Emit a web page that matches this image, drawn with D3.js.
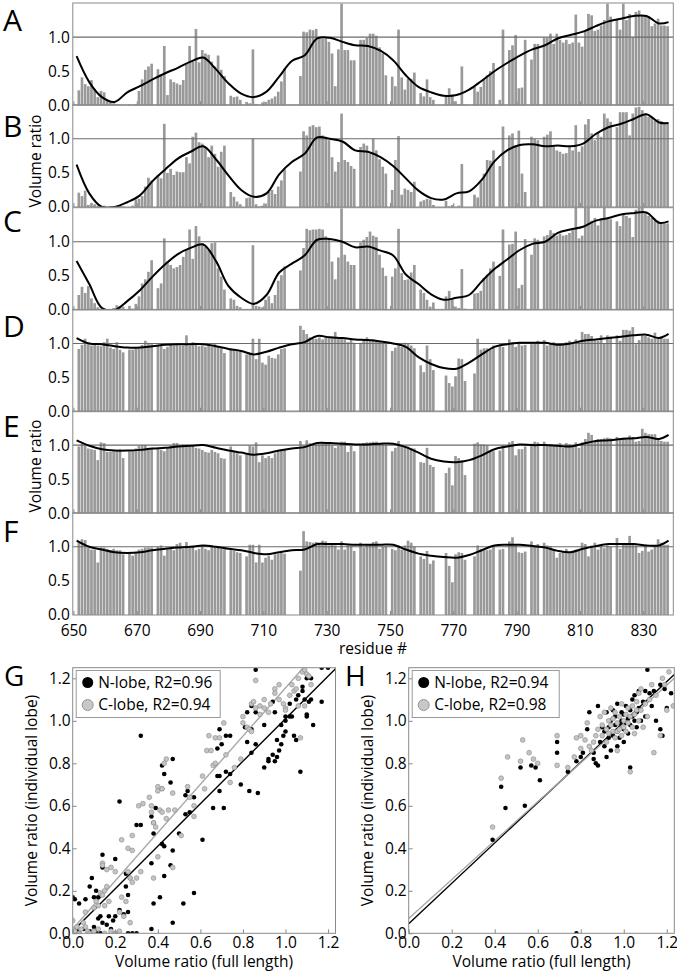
<!DOCTYPE html>
<html><head><meta charset="utf-8">
<script src="https://cdn.jsdelivr.net/npm/d3@7"></script>
<style>body{margin:0;background:#fff;} svg{display:block;font-family:"Open Sans",sans-serif;}</style>
</head><body><svg id="c" width="677" height="977"></svg>
<script>
// ---------- DATA ----------
const residues = [
652,653,654,655,656,657,658,659,660,661,662,663,664,665,666,
668,669,670,671,672,673,674,675,
677,678,679,680,681,682,683,684,685,686,687,688,689,690,691,692,693,694,695,696,697,698,
700,701,702,703,
705,706,707,708,709,710,711,712,713,714,715,716,717,
722,723,724,725,726,727,728,729,730,731,
732,733,734,735,736,737,738,739,
741,742,743,744,745,746,747,748,749,
751,752,753,754,755,756,757,758,
760,761,762,763,764,
768,769,770,771,772,773,774,
777,778,779,780,781,782,783,
785,786,
788,789,790,791,792,793,
795,796,797,
799,800,801,802,803,804,805,806,807,808,809,810,811,812,813,814,815,816,817,818,819,820,
822,823,824,825,826,827,828,829,830,831,832,833,834,835,836,837,838];

const barA = [
0.22,0.41,0.31,0.28,0.37,0.24,0.12,0.21,0.19,0.08,0.05,0.03,0.02,0.01,0.00,
0.01,0.00,0.02,0.21,0.38,0.52,0.57,0.61,
0.53,0.44,0.87,0.15,0.38,0.34,0.32,0.30,0.37,0.61,0.87,0.64,1.12,0.63,0.81,0.76,0.74,0.64,0.57,0.73,0.52,0.43,
0.14,0.12,0.13,0.08,
0.05,0.03,0.82,0.02,0.00,0.04,0.05,0.08,0.10,0.13,0.20,0.35,0.54,
0.43,1.08,1.07,1.11,1.10,1.12,1.00,0.98,0.98,0.93,
0.76,0.28,0.82,1.49,0.81,0.81,0.66,0.66,
0.96,0.96,0.99,1.05,1.05,1.02,0.85,0.76,0.44,
0.42,0.28,1.11,0.41,0.23,0.39,0.39,0.48,
0.18,0.13,0.38,0.12,0.08,
0.13,0.25,0.16,0.06,0.02,0.57,0.01,
0.27,0.20,0.27,0.38,0.44,0.50,0.62,
0.08,1.11,
0.81,0.88,1.03,0.25,0.26,0.96,
0.67,0.90,0.90,
0.99,0.99,1.05,0.90,1.05,0.96,0.92,0.96,0.90,0.92,1.33,0.92,0.86,1.08,1.34,1.32,1.09,1.11,1.17,1.25,1.49,1.30,
1.25,1.11,1.49,1.25,1.34,1.00,1.37,1.39,1.32,1.32,1.29,1.16,1.20,1.27,1.17,1.17,1.16];

const barB = [
0.21,0.16,0.24,0.03,0.06,0.04,0.02,0.01,0.02,0.00,0.01,0.00,0.00,0.02,0.01,
0.00,0.02,0.11,0.12,0.16,0.30,0.43,0.39,
0.47,0.42,1.22,0.50,0.56,0.47,0.52,0.51,0.51,0.73,0.64,1.03,1.09,0.95,0.93,0.88,0.73,0.90,0.78,0.59,0.81,0.90,
0.22,0.15,0.08,0.04,
0.13,0.14,1.00,0.04,0.01,0.02,0.05,0.22,0.25,0.19,0.30,0.39,0.56,
0.52,1.11,1.05,1.18,1.20,1.17,1.18,1.05,1.03,0.98,
0.73,0.52,0.66,1.37,0.69,0.66,0.60,0.56,
0.88,0.93,0.90,0.78,1.00,0.83,0.70,0.59,0.49,
0.25,0.69,1.04,0.18,0.27,0.25,0.22,0.37,
0.08,0.10,0.12,0.11,0.03,
0.09,0.01,0.03,0.00,0.02,0.63,0.00,
0.18,0.14,0.37,0.49,0.69,0.68,0.83,
0.60,1.18,
1.05,1.08,0.88,1.12,0.49,0.22,
1.03,1.00,0.98,
1.03,1.06,1.11,0.88,0.83,0.81,0.78,0.79,0.88,0.83,1.20,0.81,0.89,1.21,1.29,1.08,0.98,1.09,1.03,1.37,1.30,1.25,
1.17,1.39,1.39,1.39,1.05,1.37,1.46,1.47,1.42,1.37,1.32,1.33,1.27,1.29,1.26,1.22,1.22];

const barC = [
0.22,0.34,0.25,0.35,0.17,0.10,0.04,0.02,0.02,0.01,0.00,0.03,0.07,0.06,0.05,
0.06,0.02,0.09,0.20,0.39,0.45,0.56,0.73,
0.32,0.39,1.05,0.71,0.66,0.61,0.63,0.66,0.78,0.88,1.18,0.75,1.23,1.08,0.98,0.93,0.88,0.98,0.99,0.61,0.49,0.30,
0.17,0.15,0.06,0.04,
0.01,0.01,0.95,0.06,0.05,0.04,0.15,0.20,0.10,0.22,0.43,0.51,0.64,
0.58,0.91,1.19,1.17,1.18,1.18,1.19,1.18,1.08,1.05,
0.71,0.45,0.77,1.49,0.81,0.71,0.66,0.66,
0.99,1.03,1.07,1.15,1.09,1.07,0.81,0.62,0.50,
0.49,0.61,1.19,0.54,0.44,0.45,0.55,0.66,
0.30,0.25,0.15,0.05,0.11,
0.20,0.28,0.16,0.05,0.03,0.60,0.02,
0.24,0.25,0.28,0.47,0.52,0.61,0.71,
0.50,1.18,
0.96,0.97,1.15,0.32,0.37,1.04,
0.81,1.05,1.03,
1.08,1.10,1.17,1.13,1.09,1.12,1.09,1.10,1.13,1.17,1.50,1.05,1.09,1.50,1.50,1.31,1.35,1.24,1.35,1.50,1.35,1.33,
1.30,1.23,1.42,1.38,1.35,1.07,1.47,1.50,1.50,1.42,1.38,1.35,1.31,1.31,1.27,1.27,1.27];

const barD = [
0.92,0.98,1.07,1.01,0.97,1.00,0.97,0.96,1.02,1.07,0.94,0.92,1.02,0.91,0.87,
0.91,0.91,0.93,0.95,0.98,1.04,1.01,0.99,
0.98,0.97,0.92,0.95,0.99,0.97,0.99,0.97,0.97,1.12,0.97,1.02,1.01,0.96,0.97,0.95,0.97,0.95,0.99,0.95,0.93,0.86,
0.93,0.92,0.91,0.89,
0.84,0.85,1.07,0.77,1.07,0.72,0.69,0.82,0.79,0.78,0.84,0.92,0.93,
1.26,1.20,1.14,1.09,1.07,1.07,1.09,1.06,1.11,1.10,
1.10,1.17,1.07,1.07,1.06,1.02,1.06,1.01,
1.01,1.06,1.09,1.05,1.06,1.05,1.02,1.01,1.00,
0.89,0.94,0.97,0.95,1.01,1.00,0.97,0.93,
0.68,0.58,0.97,0.77,0.61,
0.53,0.42,0.37,0.52,0.78,0.77,0.45,
0.56,1.07,0.91,0.93,0.93,0.91,0.97,
0.99,0.95,
1.06,1.02,0.95,1.00,0.97,0.98,
0.99,1.00,1.04,
1.05,0.97,1.00,1.02,0.99,1.00,1.00,1.02,1.04,1.00,1.06,1.04,1.17,1.14,1.14,1.11,1.04,1.04,1.12,1.00,1.12,1.10,
1.12,1.04,1.20,1.20,1.19,1.24,0.99,1.05,1.12,1.11,1.09,1.07,1.16,1.07,1.09,1.07,1.07];

const barE = [
0.98,1.02,0.99,0.95,0.94,0.93,0.78,1.04,1.03,0.90,0.90,0.91,0.91,0.94,0.81,
0.91,0.93,0.95,0.99,1.00,1.00,0.96,0.96,
0.94,0.93,0.91,0.95,0.99,1.03,1.03,0.99,1.01,1.01,1.00,0.99,0.96,0.95,0.93,0.90,0.89,0.93,0.90,0.88,0.81,0.80,
0.98,0.90,0.88,0.85,
0.86,0.99,0.98,1.04,0.75,0.85,0.81,0.84,0.81,0.88,0.91,0.93,0.93,
1.06,0.99,1.07,1.03,1.01,1.01,1.01,1.04,1.04,1.03,
0.99,0.96,0.99,1.05,1.05,0.90,0.99,0.91,
1.01,1.03,1.04,1.04,1.05,1.05,1.01,1.01,1.00,
0.91,0.96,1.06,0.99,0.99,0.98,0.96,0.95,
0.75,0.74,0.96,0.71,0.68,
0.59,0.67,0.41,0.84,0.81,0.78,0.56,
1.02,1.04,1.01,1.01,1.00,0.91,0.91,
0.92,1.00,
1.04,1.06,0.85,0.94,0.94,0.98,
1.02,1.05,1.04,
1.05,0.99,1.01,0.99,1.01,1.03,0.96,1.03,1.01,0.99,1.04,0.96,1.04,1.09,1.18,1.15,1.06,1.09,1.09,1.10,1.11,1.10,
1.12,1.09,1.11,1.09,1.14,1.12,1.05,1.06,1.24,1.18,1.16,1.16,1.16,1.10,1.06,1.05,1.05];

const barF = [
1.08,1.11,1.10,0.99,0.96,0.96,0.77,0.99,0.99,0.97,0.95,0.97,0.95,0.95,0.89,
0.90,0.87,0.92,0.96,0.97,0.99,0.99,0.99,
1.00,1.02,0.87,0.97,0.97,0.95,1.04,1.06,0.97,1.07,0.99,1.02,0.95,0.97,1.02,0.97,0.95,1.02,0.99,1.00,0.97,0.96,
0.95,0.94,0.92,0.91,
0.86,1.03,1.03,0.77,1.03,0.77,0.84,0.87,0.81,0.89,0.90,0.91,0.90,
0.65,1.23,1.08,1.07,1.06,1.07,1.06,1.09,1.08,1.02,
1.04,1.02,0.96,1.08,0.96,1.02,1.01,0.94,
1.06,0.99,1.02,1.04,1.07,1.08,0.97,1.00,1.01,
0.97,0.95,1.02,0.96,1.02,1.09,1.06,1.00,
0.86,0.82,0.94,0.75,0.80,
0.91,0.72,0.48,0.89,0.92,0.91,0.81,
0.86,1.02,0.97,0.95,0.95,0.96,1.00,
0.96,0.97,
1.08,1.14,1.04,0.92,0.91,0.93,
1.08,1.02,1.04,
1.06,1.02,1.01,0.96,0.84,0.91,0.92,0.97,0.92,0.94,0.96,0.97,1.06,1.04,0.86,1.02,1.06,0.96,1.02,0.98,1.02,1.00,
1.13,0.97,1.04,1.03,1.16,1.04,1.02,0.91,0.94,1.02,0.93,0.96,1.02,1.11,1.06,1.03,1.03];

// smoothed profile read at these residues
const knots = [651,655,659,663,667,671,675,679,683,687,691,695,699,703,707,711,715,719,723,727,731,735,739,743,747,751,755,759,763,767,771,775,779,783,787,791,795,799,803,807,811,815,819,823,827,831,835,838];
const lineA = [0.72,0.34,0.12,0.05,0.19,0.28,0.38,0.47,0.55,0.64,0.70,0.53,0.32,0.17,0.12,0.20,0.42,0.65,0.73,0.98,0.99,0.93,0.88,0.87,0.80,0.66,0.44,0.27,0.19,0.14,0.15,0.23,0.36,0.50,0.62,0.73,0.82,0.88,0.98,1.03,1.08,1.16,1.23,1.27,1.31,1.31,1.20,1.22];
const lineB = [0.62,0.20,0.00,0.00,0.07,0.17,0.38,0.55,0.71,0.81,0.89,0.70,0.46,0.25,0.15,0.20,0.48,0.66,0.78,1.02,1.00,0.96,0.83,0.81,0.73,0.60,0.42,0.24,0.13,0.11,0.20,0.23,0.40,0.67,0.83,0.91,0.92,0.89,0.90,0.89,0.93,1.07,1.17,1.22,1.29,1.36,1.24,1.23];
const lineC = [0.72,0.38,0.03,0.00,0.13,0.29,0.49,0.67,0.82,0.91,0.96,0.72,0.35,0.18,0.09,0.22,0.55,0.68,0.80,1.03,1.04,1.00,0.92,0.93,0.87,0.80,0.52,0.38,0.23,0.15,0.18,0.22,0.42,0.60,0.74,0.88,0.97,1.00,1.13,1.18,1.22,1.31,1.35,1.40,1.42,1.43,1.28,1.30];
const lineD = [1.08,1.00,0.99,0.96,0.94,0.94,0.96,0.98,0.99,0.99,0.99,0.96,0.92,0.89,0.84,0.88,0.94,0.99,1.02,1.11,1.09,1.08,1.06,1.05,1.03,1.00,0.95,0.80,0.70,0.64,0.63,0.72,0.84,0.95,0.99,1.01,1.01,1.01,0.98,1.00,1.04,1.06,1.08,1.10,1.12,1.13,1.08,1.14];
const lineE = [1.07,0.99,0.94,0.92,0.92,0.93,0.95,0.96,0.98,0.99,1.00,0.96,0.92,0.89,0.86,0.88,0.92,0.95,0.97,1.03,1.03,1.02,1.01,1.01,1.02,1.02,0.97,0.89,0.80,0.76,0.75,0.78,0.85,0.94,0.98,1.01,1.00,1.00,0.99,0.98,1.02,1.06,1.07,1.09,1.10,1.12,1.09,1.15];
const lineF = [1.09,1.00,0.96,0.92,0.91,0.92,0.95,0.97,0.99,1.00,1.02,1.00,0.97,0.95,0.91,0.89,0.92,0.95,0.96,1.04,1.04,1.04,1.03,1.03,1.03,1.03,0.96,0.90,0.87,0.85,0.84,0.88,0.95,1.02,1.03,1.03,1.01,0.99,0.94,0.92,0.97,1.01,1.04,1.04,1.04,1.02,1.02,1.09];

const panelLetters = ["A","B","C","D","E","F"];
const barTicksY = [0.0, 0.5, 1.0];
const residueTicks = [650,670,690,710,730,750,770,790,810,830];
const scatterTicks = [0.0,0.2,0.4,0.6,0.8,1.0,1.2];

// G: full length vs individual lobe
const gNlobe = [[0.0,0.17],[0.01,0.16],[0.03,0.14],[0.06,0.16],[0.05,0.02],[0.02,0.01],[0.0,0.0],[0.03,0.0],[0.08,0.01],[0.11,0.01],[0.13,0.0],[0.1,0.03],[0.14,0.05],[0.16,0.04],[0.18,0.02],[0.2,0.0],[0.26,0.0],[0.28,0.0],[0.3,0.0],[0.37,0.02],[0.12,0.07],[0.13,0.08],[0.17,0.08],[0.19,0.06],[0.2,0.08],[0.24,0.09],[0.26,0.1],[0.22,0.11],[0.1,0.17],[0.12,0.17],[0.11,0.2],[0.08,0.22],[0.09,0.26],[0.14,0.31],[0.14,0.37],[0.2,0.35],[0.26,0.18],[0.25,0.22],[0.25,0.28],[0.27,0.26],[0.22,0.62],[0.32,0.93],[0.3,0.51],[0.32,0.51],[0.37,0.55],[0.39,0.59],[0.38,0.52],[0.37,0.33],[0.38,0.14],[0.41,0.17],[0.43,0.27],[0.46,0.32],[0.47,0.05],[0.42,0.42],[0.43,0.41],[0.47,0.39],[0.38,0.47],[0.42,0.68],[0.46,0.71],[0.43,0.75],[0.42,0.79],[0.47,0.82],[0.5,0.47],[0.53,0.56],[0.54,0.67],[0.53,0.65],[0.57,0.64],[0.55,0.57],[0.57,0.19],[0.52,0.14],[0.61,0.44],[0.66,0.59],[0.71,0.59],[0.69,0.74],[0.68,0.74],[0.69,0.67],[0.72,0.76],[0.74,0.75],[0.7,0.89],[0.68,0.87],[0.72,0.93],[0.74,0.93],[0.69,0.96],[0.79,0.7],[0.83,0.67],[0.87,0.66],[0.84,0.85],[0.86,0.89],[0.82,0.9],[0.81,0.97],[0.84,0.96],[0.82,1.04],[0.84,1.07],[0.86,1.04],[0.86,1.24],[0.9,0.78],[0.92,0.81],[0.92,0.82],[0.95,0.81],[0.94,0.84],[0.96,0.83],[0.97,0.86],[0.96,0.91],[0.98,0.89],[0.99,0.93],[1.0,0.95],[0.98,0.98],[1.0,1.0],[1.0,1.02],[1.02,1.02],[1.03,1.02],[0.95,1.04],[0.94,1.09],[0.9,0.98],[1.02,1.08],[1.05,1.1],[1.04,0.93],[1.05,0.91],[1.07,0.76],[1.06,1.12],[1.08,1.14],[1.09,1.1],[1.1,1.02],[1.1,1.03],[1.11,1.09],[1.08,1.16],[1.1,1.2],[1.12,1.2],[1.12,1.1],[1.13,0.98],[1.17,1.09],[1.17,1.25],[1.2,1.25]];
const gClobe = [[0.0,0.06],[0.0,0.02],[0.01,0.01],[0.02,0.03],[0.03,0.0],[0.04,0.02],[0.05,0.05],[0.06,0.03],[0.07,0.01],[0.08,0.0],[0.1,0.01],[0.12,0.02],[0.15,0.0],[0.18,0.01],[0.2,0.0],[0.22,0.01],[0.06,0.1],[0.1,0.12],[0.11,0.15],[0.13,0.19],[0.12,0.13],[0.14,0.18],[0.15,0.2],[0.16,0.22],[0.15,0.13],[0.17,0.15],[0.22,0.1],[0.24,0.08],[0.27,0.05],[0.23,0.17],[0.25,0.15],[0.26,0.29],[0.27,0.26],[0.28,0.24],[0.3,0.26],[0.32,0.29],[0.14,0.33],[0.14,0.32],[0.16,0.3],[0.18,0.31],[0.2,0.29],[0.23,0.44],[0.26,0.4],[0.28,0.39],[0.28,0.46],[0.31,0.6],[0.33,0.61],[0.36,0.64],[0.37,0.6],[0.37,0.57],[0.38,0.52],[0.39,0.5],[0.4,0.69],[0.4,0.67],[0.42,0.68],[0.44,0.82],[0.43,0.8],[0.41,0.58],[0.42,0.57],[0.44,0.54],[0.45,0.58],[0.47,0.66],[0.48,0.58],[0.38,0.26],[0.4,0.36],[0.47,0.31],[0.51,0.46],[0.54,0.69],[0.55,0.64],[0.57,0.55],[0.57,0.6],[0.61,0.74],[0.62,0.68],[0.63,0.86],[0.64,0.93],[0.65,0.86],[0.66,0.79],[0.67,0.8],[0.67,0.92],[0.69,0.92],[0.71,0.99],[0.72,0.84],[0.74,0.71],[0.76,0.78],[0.79,0.82],[0.8,0.99],[0.8,1.02],[0.82,0.97],[0.83,0.96],[0.84,0.95],[0.84,1.08],[0.85,1.09],[0.86,1.06],[0.86,1.19],[0.88,1.03],[0.88,1.07],[0.9,1.1],[0.9,1.06],[0.92,1.04],[0.93,1.08],[0.95,1.15],[0.95,1.13],[0.97,1.1],[0.97,1.17],[0.99,1.08],[1.0,1.06],[1.0,1.05],[1.02,1.12],[1.03,1.17],[1.04,1.14],[1.05,1.15],[1.06,1.07],[1.07,0.92],[1.06,1.2],[1.08,1.23],[1.09,1.24],[1.1,1.22],[1.11,1.21],[1.12,1.17],[1.09,1.07]];
// H
const hNlobe = [[0.39,0.44],[0.43,0.69],[0.45,0.59],[0.52,0.78],[0.54,0.6],[0.57,0.79],[0.59,0.78],[0.61,0.72],[0.69,0.85],[0.69,0.9],[0.74,0.76],[0.78,0.81],[0.8,0.83],[0.81,0.85],[0.83,0.96],[0.84,1.04],[0.86,0.85],[0.86,0.82],[0.87,0.8],[0.88,0.79],[0.88,1.07],[0.89,0.9],[0.9,0.97],[0.91,0.88],[0.91,0.95],[0.92,1.04],[0.93,0.92],[0.93,0.97],[0.94,0.86],[0.94,1.0],[0.95,1.05],[0.95,0.93],[0.96,0.98],[0.96,1.02],[0.97,0.95],[0.97,1.08],[0.98,0.99],[0.98,0.92],[0.99,1.0],[0.99,1.04],[1.0,0.96],[1.0,1.03],[1.01,0.99],[1.01,1.07],[1.02,1.01],[1.02,0.94],[1.03,1.05],[1.03,0.78],[1.03,0.98],[1.04,1.1],[1.04,1.02],[1.05,1.0],[1.05,1.12],[1.06,1.04],[1.06,0.97],[1.07,1.06],[1.07,1.14],[1.08,1.0],[1.09,1.09],[1.1,1.14],[1.1,1.02],[1.11,1.24],[1.12,1.13],[1.13,1.07],[1.14,1.14],[1.15,1.0],[1.17,0.96],[1.17,1.17],[1.18,0.93],[1.19,1.15],[1.2,1.06],[1.22,1.13],[0.78,0.0],[0.97,0.88],[0.92,0.83],[1.0,0.9]];
const hClobe = [[0.39,0.5],[0.43,0.73],[0.46,0.83],[0.52,0.81],[0.53,0.91],[0.56,0.85],[0.58,0.82],[0.6,0.8],[0.69,0.93],[0.69,0.79],[0.74,0.78],[0.77,0.83],[0.78,0.92],[0.8,0.93],[0.8,0.87],[0.82,0.91],[0.83,0.99],[0.84,0.88],[0.85,0.86],[0.86,0.9],[0.87,0.93],[0.88,0.96],[0.89,1.02],[0.9,0.93],[0.9,0.98],[0.91,1.04],[0.92,0.96],[0.92,0.9],[0.93,1.0],[0.93,0.94],[0.94,0.98],[0.94,1.06],[0.95,0.95],[0.95,1.01],[0.96,0.92],[0.96,1.04],[0.97,0.99],[0.97,0.95],[0.98,1.02],[0.98,0.96],[0.99,1.08],[0.99,0.93],[1.0,1.0],[1.0,0.97],[1.01,1.03],[1.01,0.95],[1.02,1.06],[1.02,0.99],[1.03,1.02],[1.03,0.76],[1.04,0.97],[1.04,1.07],[1.05,1.03],[1.05,0.94],[1.06,1.05],[1.06,1.09],[1.07,1.0],[1.07,1.13],[1.08,1.05],[1.09,0.97],[1.1,1.08],[1.11,1.02],[1.12,1.1],[1.13,1.17],[1.14,0.85],[1.15,1.12],[1.17,0.93],[1.18,1.2],[1.19,1.17],[1.2,1.05],[1.21,1.23],[1.23,1.07],[0.97,0.86],[1.08,1.15]];
// regression lines: [intercept, slope]
const gFitN = [0.01, 1.0];
const gFitC = [0.02, 1.135];
const hFitN = [0.045, 0.95];
const hFitC = [0.07, 0.915];
const gLegend = ["N-lobe, R2=0.96", "C-lobe, R2=0.94"];
const hLegend = ["N-lobe, R2=0.94", "C-lobe, R2=0.98"];

// ---------- DRAW ----------
const svg = d3.select("#c");
const FS = 15.5;
const barColor = "#999999";
const frameColor = "#8a8a8a";

const x = d3.scaleLinear().domain([649.8, 839.5]).range([72.8, 673.3]);
const bottoms = [105.3, 207, 310, 411.7, 513.3, 615];
const letterBase = [30.7, 136.5, 231.7, 336.7, 437, 541.7];
const panelH = 102.3;
const barSets = [barA, barB, barC, barD, barE, barF];
const lineSets = [lineA, lineB, lineC, lineD, lineE, lineF];
const bw = x(650.84) - x(650);

bottoms.forEach((b, i) => {
  const y = d3.scaleLinear().domain([0, 1.5]).range([b, b - panelH]);
  const g = svg.append("g");
  const data = residues.map((r, j) => ({r, v: barSets[i][j]})).filter(d => d.v != null);
  g.selectAll("rect.bar").data(data).join("rect").attr("class","bar")
    .attr("x", d => x(d.r - 0.72)).attr("width", bw)
    .attr("y", d => y(Math.min(d.v, 1.5))).attr("height", d => b - y(Math.min(d.v, 1.5)))
    .attr("fill", barColor);
  g.append("line").attr("x1", x.range()[0]).attr("x2", x.range()[1])
    .attr("y1", y(1)).attr("y2", y(1)).attr("stroke", "#6a6a6a").attr("stroke-width", 1.1);
  const clipId = "clip" + i;
  svg.append("clipPath").attr("id", clipId).append("rect")
    .attr("x", x.range()[0]).attr("y", b - panelH).attr("width", x.range()[1] - x.range()[0]).attr("height", panelH);
  g.append("path").datum(knots.map((k, j) => [k, lineSets[i][j]]))
    .attr("clip-path", `url(#${clipId})`)
    .attr("d", d3.line().x(d => x(d[0])).y(d => y(d[1])).curve(d3.curveCatmullRom.alpha(0.5)))
    .attr("fill", "none").attr("stroke", "#000").attr("stroke-width", 2);
  // y axis
  const ya = g.append("g").attr("transform", `translate(${x.range()[0]},0)`)
    .call(d3.axisLeft(y).tickValues(barTicksY).tickFormat(d3.format(".1f")).tickSize(0).tickPadding(3));
  ya.select(".domain").remove();
  ya.selectAll("text").attr("font-size", FS).attr("font-family", "Open Sans").attr("fill", "#000");
  // x axis (inward ticks)
  const xa = g.append("g").attr("transform", `translate(0,${b})`)
    .call(d3.axisBottom(x).tickValues(residueTicks).tickSize(-4).tickPadding(9.5).tickFormat(i === 5 ? d3.format("d") : ""));
  xa.select(".domain").remove();
  xa.selectAll("line").attr("stroke", frameColor);
  xa.selectAll("text").attr("font-size", FS).attr("font-family", "Open Sans").attr("fill", "#000");
  // frame
  g.append("rect").attr("x", x.range()[0]).attr("y", b - panelH)
    .attr("width", x.range()[1] - x.range()[0]).attr("height", panelH)
    .attr("fill", "none").attr("stroke", frameColor).attr("stroke-width", 1);
  g.append("text").attr("x", 3).attr("y", letterBase[i]).attr("font-size", 30).text(panelLetters[i]);
});

svg.append("text").attr("transform", "translate(41,161) rotate(-90)").attr("text-anchor", "middle")
  .attr("font-size", FS).text("Volume ratio");
svg.append("text").attr("transform", "translate(41,466) rotate(-90)").attr("text-anchor", "middle")
  .attr("font-size", FS).text("Volume ratio");
svg.append("text").attr("x", 373).attr("y", 653.5).attr("text-anchor", "middle").attr("font-size", FS).text("residue #");

// ---------- scatter panels ----------
function scatterPanel(cfg) {
  const sx = d3.scaleLinear().domain([0, 1.235]).range([cfg.x0, cfg.x1]);
  const sy = d3.scaleLinear().domain([0, 1.25]).range([933.3, 667.7]);
  const g = svg.append("g");
  const cid = "clip" + cfg.letter;
  svg.append("clipPath").attr("id", cid).append("rect")
    .attr("x", cfg.x0).attr("y", 667.7).attr("width", cfg.x1 - cfg.x0).attr("height", 933.3 - 667.7);
  const plot = g.append("g").attr("clip-path", `url(#${cid})`);
  [[cfg.fitN, "#000"], [cfg.fitC, "#a8a8a8"]].forEach(([f, col]) => {
    plot.append("line").attr("x1", sx(0)).attr("y1", sy(f[0]))
      .attr("x2", sx(1.235)).attr("y2", sy(f[0] + f[1] * 1.235))
      .attr("stroke", col).attr("stroke-width", 1.4);
  });
  plot.selectAll("circle.n").data(cfg.n).join("circle").attr("class", "n")
    .attr("cx", d => sx(d[0])).attr("cy", d => sy(d[1])).attr("r", 2.3).attr("fill", "#000");
  plot.selectAll("circle.c").data(cfg.c).join("circle").attr("class", "c")
    .attr("cx", d => sx(d[0])).attr("cy", d => sy(d[1])).attr("r", 2.4)
    .attr("fill", "#c4c4c4").attr("stroke", "#888").attr("stroke-width", 0.6);
  const xa = g.append("g").attr("transform", "translate(0,933.3)")
    .call(d3.axisBottom(sx).tickValues(scatterTicks).tickFormat(d3.format(".1f")).tickSize(-4).tickPadding(3.5));
  xa.select(".domain").remove();
  const ya = g.append("g").attr("transform", `translate(${cfg.x0},0)`)
    .call(d3.axisLeft(sy).tickValues(scatterTicks).tickFormat(d3.format(".1f")).tickSize(-4).tickPadding(2));
  ya.select(".domain").remove();
  g.selectAll(".tick line").attr("stroke", frameColor);
  g.selectAll(".tick text").attr("font-size", FS).attr("font-family", "Open Sans").attr("fill", "#000");
  g.append("rect").attr("x", cfg.x0).attr("y", 667.7).attr("width", cfg.x1 - cfg.x0).attr("height", 933.3 - 667.7)
    .attr("fill", "none").attr("stroke", frameColor);
  // legend
  const lg = g.append("g");
  lg.append("rect").attr("x", cfg.x0 + 3.5).attr("y", 670.5).attr("width", cfg.legW).attr("height", 47)
    .attr("fill", "#fff").attr("stroke", "#999");
  lg.append("circle").attr("cx", cfg.x0 + 15).attr("cy", 682.5).attr("r", 5.5).attr("fill", "#000");
  lg.append("circle").attr("cx", cfg.x0 + 15).attr("cy", 705).attr("r", 5.5).attr("fill", "#c8c8c8").attr("stroke", "#999");
  lg.append("text").attr("x", cfg.x0 + 25.5).attr("y", 688).attr("font-size", FS).text(cfg.legend[0]);
  lg.append("text").attr("x", cfg.x0 + 25.5).attr("y", 710).attr("font-size", FS).text(cfg.legend[1]);
  svg.append("text").attr("x", (cfg.x0 + cfg.x1) / 2).attr("y", 966.5).attr("text-anchor", "middle")
    .attr("font-size", FS).text("Volume ratio (full length)");
  svg.append("text").attr("transform", `translate(${cfg.x0 - 36},800.5) rotate(-90)`).attr("text-anchor", "middle")
    .attr("font-size", FS).text("Volume ratio (individual lobe)");
  svg.append("text").attr("x", cfg.letterX).attr("y", 686).attr("font-size", 28).text(cfg.letter);
}
scatterPanel({x0: 72.7, x1: 335.5, n: gNlobe, c: gClobe, fitN: gFitN, fitC: gFitC, legend: gLegend, legW: 144, letter: "G", letterX: 4});
scatterPanel({x0: 408.7, x1: 674.3, n: hNlobe, c: hClobe, fitN: hFitN, fitC: hFitC, legend: hLegend, legW: 147, letter: "H", letterX: 345});
</script></body></html>
